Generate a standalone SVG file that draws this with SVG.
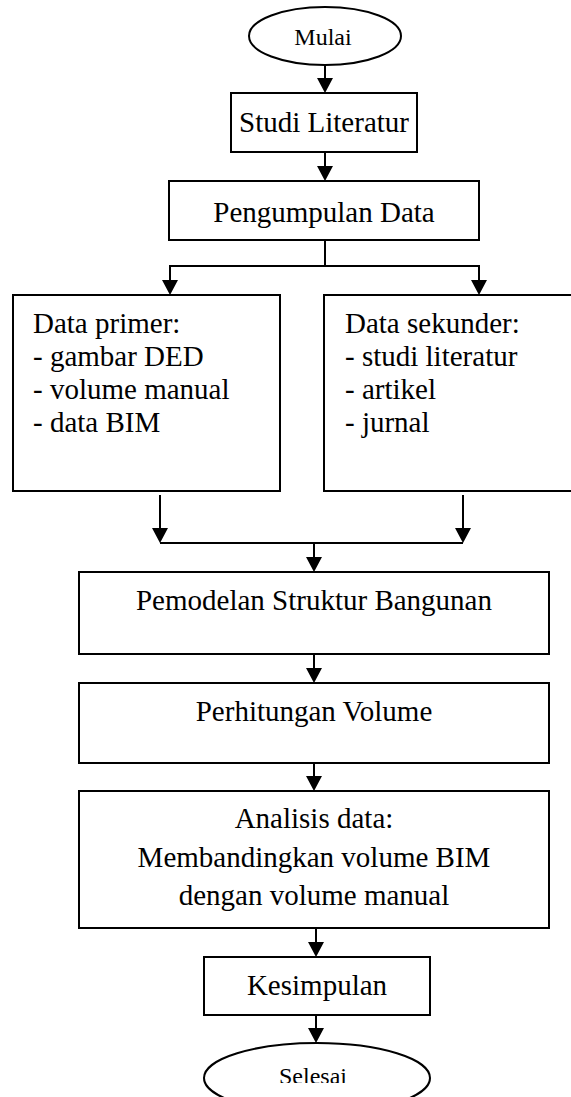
<svg xmlns="http://www.w3.org/2000/svg" width="571" height="1097" viewBox="0 0 571 1097">
<style>
.box{fill:#fff;stroke:#000;stroke-width:2}
.t{font-family:"Liberation Serif","Times New Roman",serif;font-size:29px;fill:#000}
.ts{font-family:"Liberation Serif","Times New Roman",serif;font-size:24px;fill:#000}
.c{text-anchor:middle}
.ln{fill:none;stroke:#000;stroke-width:2}
</style>
<defs>
<marker id="ah" markerUnits="userSpaceOnUse" markerWidth="15" markerHeight="16" refX="13" refY="8" orient="auto" viewBox="0 0 15 16">
<path d="M0,0 L15,8 L0,16 Z" fill="#000"/>
</marker>
<clipPath id="clipSel"><rect x="200" y="1040" width="240" height="43"/></clipPath>
</defs>
<rect width="571" height="1097" fill="#fff"/>

<g id="connectors">
<line class="ln" x1="325" y1="65" x2="325" y2="91" marker-end="url(#ah)"/>
<line class="ln" x1="325" y1="152" x2="325" y2="179" marker-end="url(#ah)"/>
<path class="ln" d="M325,240 V266 M169,266 H480"/>
<line class="ln" x1="170" y1="266" x2="170" y2="293" marker-end="url(#ah)"/>
<line class="ln" x1="479" y1="266" x2="479" y2="293" marker-end="url(#ah)"/>
<line class="ln" x1="160" y1="495" x2="160" y2="541" marker-end="url(#ah)"/>
<line class="ln" x1="463" y1="495" x2="463" y2="541" marker-end="url(#ah)"/>
<path class="ln" d="M160,543 H463"/>
<line class="ln" x1="314" y1="543" x2="314" y2="570" marker-end="url(#ah)"/>
<line class="ln" x1="314" y1="654" x2="314" y2="681" marker-end="url(#ah)"/>
<line class="ln" x1="314" y1="763" x2="314" y2="789" marker-end="url(#ah)"/>
<line class="ln" x1="316" y1="928" x2="316" y2="955" marker-end="url(#ah)"/>
<line class="ln" x1="316" y1="1015" x2="316" y2="1041" marker-end="url(#ah)"/>
</g>

<g id="mulai">
<ellipse class="box" cx="325" cy="36" rx="76" ry="29"/>
<text class="ts c" x="323" y="45">Mulai</text>
</g>

<g id="studi-literatur">
<rect class="box" x="231" y="93" width="186" height="59"/>
<text class="t c" x="324" y="132">Studi Literatur</text>
</g>

<g id="pengumpulan-data">
<rect class="box" x="169" y="181" width="310" height="59"/>
<text class="t c" x="324" y="222">Pengumpulan Data</text>
</g>

<g id="data-primer">
<rect class="box" x="13" y="295" width="267" height="196"/>
<text class="t" x="33" y="333">Data primer:</text>
<text class="t" x="33" y="366">- gambar DED</text>
<text class="t" x="33" y="399">- volume manual</text>
<text class="t" x="33" y="432">- data BIM</text>
</g>

<g id="data-sekunder">
<rect class="box" x="324" y="295" width="260" height="196"/>
<text class="t" x="345" y="333">Data sekunder:</text>
<text class="t" x="345" y="366">- studi literatur</text>
<text class="t" x="345" y="399">- artikel</text>
<text class="t" x="345" y="432">- jurnal</text>
</g>

<g id="pemodelan">
<rect class="box" x="79" y="572" width="470" height="82"/>
<text class="t c" x="314" y="610">Pemodelan Struktur Bangunan</text>
</g>

<g id="perhitungan">
<rect class="box" x="79" y="683" width="470" height="80"/>
<text class="t c" x="314" y="721">Perhitungan Volume</text>
</g>

<g id="analisis">
<rect class="box" x="79" y="791" width="470" height="137"/>
<text class="t c" x="314" y="828">Analisis data:</text>
<text class="t c" x="314" y="867">Membandingkan volume BIM</text>
<text class="t c" x="314" y="905">dengan volume manual</text>
</g>

<g id="kesimpulan">
<rect class="box" x="204" y="957" width="226" height="58"/>
<text class="t c" x="317" y="995">Kesimpulan</text>
</g>

<g id="selesai">
<ellipse class="box" cx="317" cy="1078" rx="113" ry="35"/>
<text class="ts c" x="313" y="1084" clip-path="url(#clipSel)">Selesai</text>
</g>
</svg>
